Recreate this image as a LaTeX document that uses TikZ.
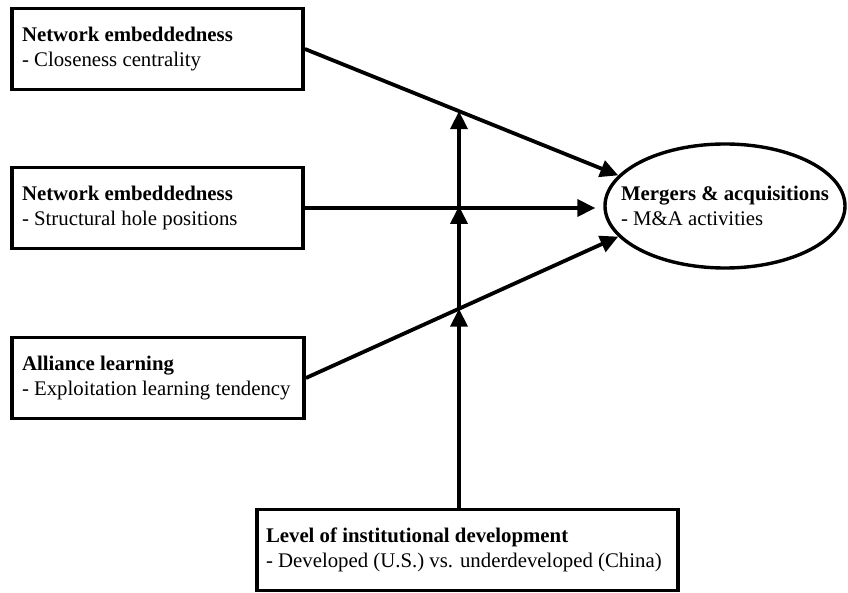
\documentclass[tikz,border=0pt]{standalone}
\usepackage{fontspec}
\setmainfont{Liberation Serif}
\usetikzlibrary{arrows.meta,shapes.geometric,intersections}
\newcommand{\boxline}[2]{\makebox[#1][l]{#2}}
\begin{document}
\begin{tikzpicture}[x=1pt,y=-1pt,
  lw/.style={line width=3.8pt},
  varbox/.style={draw,lw,rectangle,minimum height=81pt,inner xsep=10pt,inner ysep=4pt,align=left,
    font=\fontsize{20.8}{25}\selectfont},
  arr/.style={lw,-{Triangle[length=18pt,width=17pt]}},
  conn/.style={lw}]
\useasboundingbox (0,0) rectangle (848,593);
\node[varbox] (b1) at (157.5,49) {\boxline{271pt}{\textbf{Network embeddedness}}\\\boxline{271pt}{- Closeness centrality}};
\node[varbox] (b2) at (157.5,208) {\boxline{271pt}{\textbf{Network embeddedness}}\\\boxline{271pt}{- Structural hole positions}};
\node[varbox] (b3) at (158,378) {\boxline{272pt}{\textbf{Alliance learning}}\\\boxline{272pt}{- Exploitation learning tendency}};
\node[varbox,inner xsep=9pt] (b4) at (467.5,550) {\boxline{403pt}{\textbf{Level of institutional development}}\\\boxline{403pt}{- Developed (U.S.) vs. underdeveloped (China)}};
\node[draw,line width=3.4pt,ellipse,minimum width=240pt,minimum height=124pt,inner sep=0pt] (ma) at (725,206) {};
\node[align=left,font=\fontsize{20.8}{25}\selectfont,inner sep=0pt] (matext) at (ma.center) {\textbf{Mergers \& acquisitions}\\- M\&A activities};
\coordinate (vx) at (459,0);
\draw[arr,name path=d1] (b1.east) -- (ma.164);
\draw[arr,shorten >=8pt] (b2.east) -- (b2.east -| ma.west);
\draw[arr,name path=d3] (b3.east) -- (ma.196);
\path[name path=vert] (b4.north -| vx) -- ++(0,-480);
\path[name intersections={of=vert and d1,by=i1}];
\path[name intersections={of=vert and d3,by=i3}];
\coordinate (i2) at (b2.east -| vx);
\draw[arr] (b4.north -| vx) -- (i3);
\draw[arr] (i3) -- ([yshift=2pt]i2);
\draw[arr] (i2) -- (i1);
\end{tikzpicture}
\end{document}
